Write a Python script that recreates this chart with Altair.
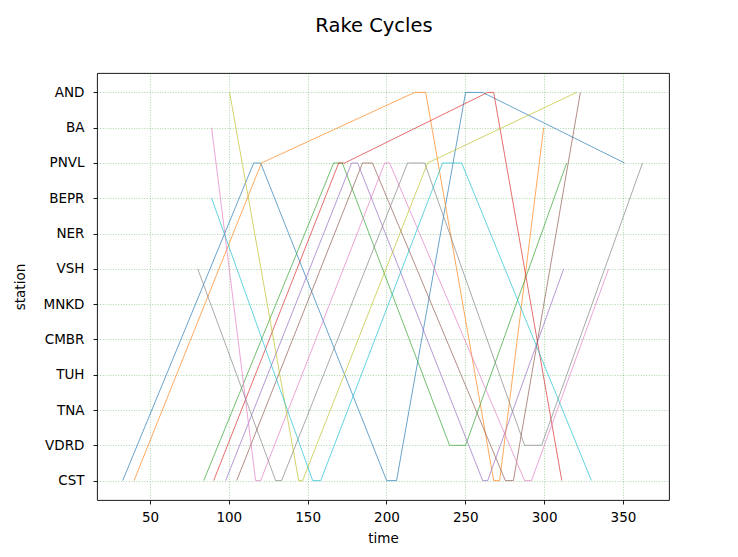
import altair as alt
import pandas as pd

stations = ["CST", "VDRD", "TNA", "TUH", "CMBR", "MNKD", "VSH", "NER", "BEPR", "PNVL", "BA", "AND"]

# each rake cycle: times and stations visited
c0_t = [32.7, 115.8, 120.2, 200.1, 206.4, 250.2, 261.0, 351.0]
c0_s = ["CST", "PNVL", "PNVL", "CST", "CST", "AND", "AND", "PNVL"]
c1_t = [39.9, 120.7, 217.9, 224.9, 268.0, 271.8, 299.7]
c1_s = ["CST", "PNVL", "AND", "AND", "CST", "CST", "BA"]
c2_t = [84.1, 166.5, 172.0, 240.0, 250.2, 314.3]
c2_s = ["CST", "PNVL", "PNVL", "VDRD", "VDRD", "PNVL"]
c3_t = [90.4, 169.7, 173.5, 264.2, 268.0, 311.2]
c3_s = ["CST", "PNVL", "PNVL", "AND", "AND", "CST"]
c4_t = [98.0, 177.9, 181.7, 261.0, 264.2, 312.4]
c4_s = ["CST", "PNVL", "PNVL", "CST", "CST", "VSH"]
c5_t = [105.0, 184.8, 191.1, 275.4, 280.5, 323.0]
c5_s = ["CST", "PNVL", "PNVL", "CST", "CST", "AND"]
c6_t = [89.1, 117.0, 120.2, 198.9, 202.0, 287.6, 292.0, 340.9]
c6_s = ["BA", "CST", "CST", "PNVL", "PNVL", "CST", "CST", "VSH"]
c7_t = [80.3, 129.7, 133.5, 213.4, 224.2, 287.6, 298.4, 362.4]
c7_s = ["VSH", "CST", "CST", "PNVL", "PNVL", "VDRD", "VDRD", "PNVL"]
c8_t = [100.5, 144.3, 146.8, 226.1, 320.6]
c8_s = ["AND", "CST", "CST", "PNVL", "AND"]
c9_t = [89.1, 153.2, 158.3, 235.6, 247.7, 330.0]
c9_s = ["BEPR", "CST", "CST", "PNVL", "PNVL", "CST"]

cycles_t = [c0_t, c1_t, c2_t, c3_t, c4_t, c5_t, c6_t, c7_t, c8_t, c9_t]
cycles_s = [c0_s, c1_s, c2_s, c3_s, c4_s, c5_s, c6_s, c7_s, c8_s, c9_s]

tab10 = ["#1f77b4", "#ff7f0e", "#2ca02c", "#d62728", "#9467bd",
         "#8c564b", "#e377c2", "#7f7f7f", "#bcbd22", "#17becf"]

rows = []
for ci, (ts, ss) in enumerate(zip(cycles_t, cycles_s)):
    for k, (t, s) in enumerate(zip(ts, ss)):
        rows.append({"cycle": ci, "k": k, "time": t, "idx": stations.index(s)})
df = pd.DataFrame(rows)

label_expr = "[" + ",".join(f"'{s}'" for s in stations) + "][datum.value]"

chart = alt.Chart(df).mark_line(strokeWidth=0.9, opacity=0.75).encode(
    x=alt.X("time:Q", title="time",
            scale=alt.Scale(domain=[16.4, 379.2], nice=False, zero=False),
            axis=alt.Axis(values=[50, 100, 150, 200, 250, 300, 350], labelPadding=6, titlePadding=8)),
    y=alt.Y("idx:Q", title="station",
            scale=alt.Scale(domain=[-0.55, 11.55], nice=False, zero=False),
            axis=alt.Axis(values=list(range(12)), labelExpr=label_expr, labelPadding=9, titlePadding=16)),
    color=alt.Color("cycle:N", scale=alt.Scale(domain=list(range(10)), range=tab10), legend=None),
    detail="cycle:N",
    order="k:Q",
).properties(
    width=572, height=427,
    title=alt.TitleParams("Rake Cycles", fontSize=19.5, fontWeight="normal", font="DejaVu Sans",
                          color="black", anchor="middle", dx=-9, offset=37),
    autosize=alt.AutoSizeParams(type="none"),
    padding={"left": 89, "top": 65, "right": 60, "bottom": 50},
).configure_view(
    stroke="black", strokeWidth=0.9
).configure_axis(
    domain=False,
    grid=True, gridColor="green", gridOpacity=0.55, gridWidth=0.6, gridDash=[1, 1.6],
    tickColor="black", tickSize=4, tickWidth=0.9,
    labelFont="DejaVu Sans", labelFontSize=13.5, labelColor="black",
    titleFont="DejaVu Sans", titleFontSize=13.5, titleFontWeight="normal", titleColor="black",
)

chart.save("out.html", embed_options={"renderer": "svg", "actions": False})
